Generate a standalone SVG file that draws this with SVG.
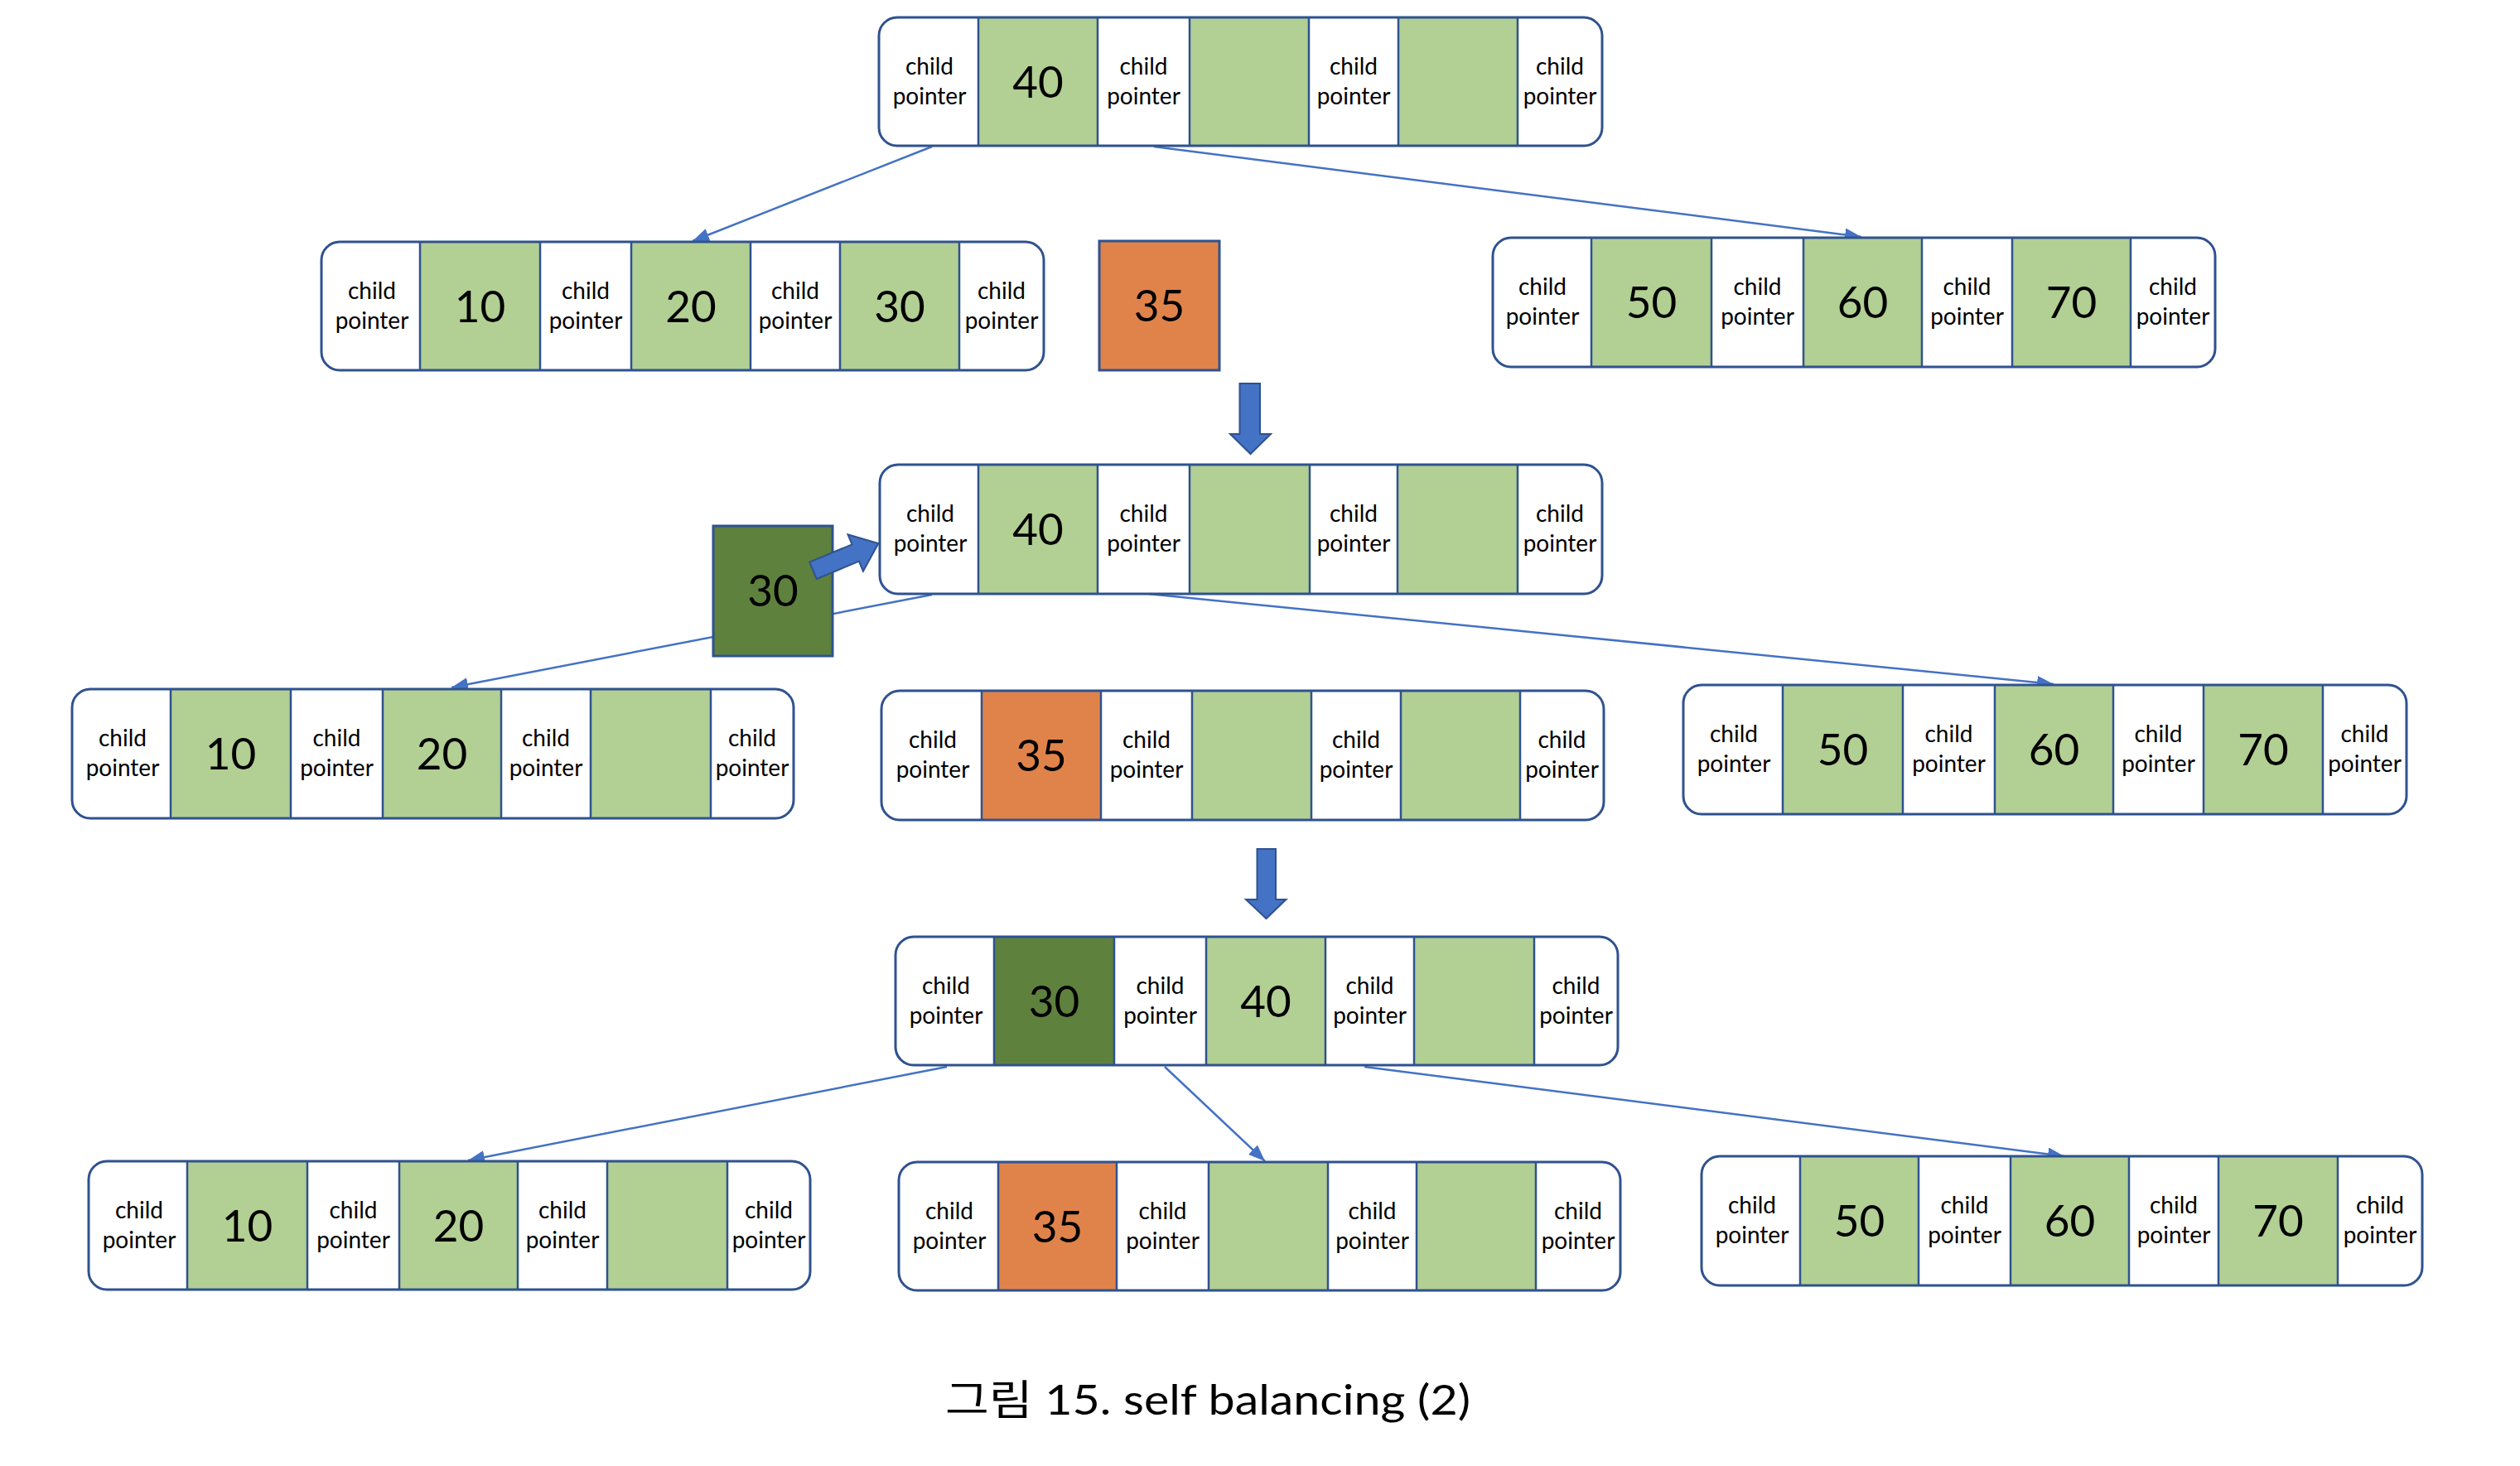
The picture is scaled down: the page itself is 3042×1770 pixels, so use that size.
<svg xmlns="http://www.w3.org/2000/svg" width="3042" height="1770" viewBox="0 0 3042 1770">
<style>
.frame{fill:#fff;stroke:none}
.outline{fill:none;stroke:#2F528F;stroke-width:3}
.k{fill:#B2CF94}
.o{fill:#E0834A}
.d{fill:#5E813E}
.dv{stroke:#2F528F;stroke-width:2.5}
.box{stroke:#2F528F;stroke-width:3}
.cp{font-family:Lato,"Noto Sans",sans-serif;font-size:28px;text-anchor:middle;fill:#000}
.num{font-family:Lato,"Noto Sans",sans-serif;font-size:53px;text-anchor:middle;fill:#000}
.edge{stroke:#4472C4;stroke-width:2.5;fill:none;marker-end:url(#ah)}
.blk{fill:#4472C4;stroke:#2F528F;stroke-width:2}
.cap{font-family:Lato,"Noto Sans","Noto Sans CJK KR",sans-serif;font-size:50px;fill:#000}
</style>
<defs>
<marker id="ah" viewBox="0 0 20 16" refX="20" refY="8" markerWidth="20" markerHeight="16" markerUnits="userSpaceOnUse" orient="auto"><path d="M0,0 L20,8 L0,16 z" fill="#4472C4"/></marker>
</defs>
<rect width="3042" height="1770" fill="#fff"/>
<g id="connectors">
<line class="edge" x1="1125" y1="177" x2="836" y2="291"/>
<line class="edge" x1="1393" y1="177" x2="2247" y2="286"/>
<line class="edge" x1="1125" y1="718" x2="545" y2="830"/>
<line class="edge" x1="1386" y1="717" x2="2479" y2="826"/>
<line class="edge" x1="1143" y1="1288" x2="565" y2="1401"/>
<line class="edge" x1="1406" y1="1288" x2="1527" y2="1402"/>
<line class="edge" x1="1647" y1="1288" x2="2492" y2="1396"/>
</g>
<g id="nodeA">
<rect class="frame" x="1061" y="21" width="873" height="155" rx="22"/>
<rect class="k" x="1181" y="21" width="144" height="155"/><rect class="k" x="1436" y="21" width="144" height="155"/><rect class="k" x="1688" y="21" width="144" height="155"/>
<path class="dv" d="M1181,21V176M1325,21V176M1436,21V176M1580,21V176M1688,21V176M1832,21V176"/>
<rect class="outline" x="1061" y="21" width="873" height="155" rx="22"/>
<text class="cp"><tspan x="1122" y="90">child</tspan><tspan x="1122" y="126">pointer</tspan></text>
<text class="cp"><tspan x="1380.5" y="90">child</tspan><tspan x="1380.5" y="126">pointer</tspan></text>
<text class="cp"><tspan x="1634" y="90">child</tspan><tspan x="1634" y="126">pointer</tspan></text>
<text class="cp"><tspan x="1883" y="90">child</tspan><tspan x="1883" y="126">pointer</tspan></text>
<text class="num" x="1253" y="118">40</text>
</g>
<g id="nodeB">
<rect class="frame" x="388" y="292" width="872" height="155" rx="22"/>
<rect class="k" x="507" y="292" width="145" height="155"/><rect class="k" x="762" y="292" width="144" height="155"/><rect class="k" x="1014" y="292" width="144" height="155"/>
<path class="dv" d="M507,292V447M652,292V447M762,292V447M906,292V447M1014,292V447M1158,292V447"/>
<rect class="outline" x="388" y="292" width="872" height="155" rx="22"/>
<text class="cp"><tspan x="449" y="361">child</tspan><tspan x="449" y="397">pointer</tspan></text>
<text class="cp"><tspan x="707" y="361">child</tspan><tspan x="707" y="397">pointer</tspan></text>
<text class="cp"><tspan x="960" y="361">child</tspan><tspan x="960" y="397">pointer</tspan></text>
<text class="cp"><tspan x="1209" y="361">child</tspan><tspan x="1209" y="397">pointer</tspan></text>
<text class="num" x="579.5" y="389">10</text><text class="num" x="834" y="389">20</text><text class="num" x="1086" y="389">30</text>
</g>
<g id="new35">
<rect class="o box" x="1327" y="291" width="145" height="156"/>
<text class="num" x="1399.5" y="388">35</text>
</g>
<g id="nodeC">
<rect class="frame" x="1802" y="287" width="872" height="156" rx="22"/>
<rect class="k" x="1921" y="287" width="145" height="156"/><rect class="k" x="2177" y="287" width="143" height="156"/><rect class="k" x="2429" y="287" width="143" height="156"/>
<path class="dv" d="M1921,287V443M2066,287V443M2177,287V443M2320,287V443M2429,287V443M2572,287V443"/>
<rect class="outline" x="1802" y="287" width="872" height="156" rx="22"/>
<text class="cp"><tspan x="1862" y="356">child</tspan><tspan x="1862" y="392">pointer</tspan></text>
<text class="cp"><tspan x="2121.5" y="356">child</tspan><tspan x="2121.5" y="392">pointer</tspan></text>
<text class="cp"><tspan x="2374.5" y="356">child</tspan><tspan x="2374.5" y="392">pointer</tspan></text>
<text class="cp"><tspan x="2623" y="356">child</tspan><tspan x="2623" y="392">pointer</tspan></text>
<text class="num" x="1993.5" y="384">50</text><text class="num" x="2248.5" y="384">60</text><text class="num" x="2500.5" y="384">70</text>
</g>
<g id="nodeD">
<rect class="frame" x="1062" y="561" width="872" height="156" rx="22"/>
<rect class="k" x="1181" y="561" width="144" height="156"/><rect class="k" x="1436" y="561" width="145" height="156"/><rect class="k" x="1687" y="561" width="145" height="156"/>
<path class="dv" d="M1181,561V717M1325,561V717M1436,561V717M1581,561V717M1687,561V717M1832,561V717"/>
<rect class="outline" x="1062" y="561" width="872" height="156" rx="22"/>
<text class="cp"><tspan x="1123" y="630">child</tspan><tspan x="1123" y="666">pointer</tspan></text>
<text class="cp"><tspan x="1380.5" y="630">child</tspan><tspan x="1380.5" y="666">pointer</tspan></text>
<text class="cp"><tspan x="1634" y="630">child</tspan><tspan x="1634" y="666">pointer</tspan></text>
<text class="cp"><tspan x="1883" y="630">child</tspan><tspan x="1883" y="666">pointer</tspan></text>
<text class="num" x="1253" y="658">40</text>
</g>
<g id="up30">
<rect class="d box" x="861" y="635" width="144" height="157"/>
<text class="num" x="933" y="732">30</text>
</g>
<g id="nodeE">
<rect class="frame" x="87" y="832" width="871" height="156" rx="22"/>
<rect class="k" x="206" y="832" width="145" height="156"/><rect class="k" x="462" y="832" width="143" height="156"/><rect class="k" x="713" y="832" width="145" height="156"/>
<path class="dv" d="M206,832V988M351,832V988M462,832V988M605,832V988M713,832V988M858,832V988"/>
<rect class="outline" x="87" y="832" width="871" height="156" rx="22"/>
<text class="cp"><tspan x="148" y="901">child</tspan><tspan x="148" y="937">pointer</tspan></text>
<text class="cp"><tspan x="406.5" y="901">child</tspan><tspan x="406.5" y="937">pointer</tspan></text>
<text class="cp"><tspan x="659" y="901">child</tspan><tspan x="659" y="937">pointer</tspan></text>
<text class="cp"><tspan x="908" y="901">child</tspan><tspan x="908" y="937">pointer</tspan></text>
<text class="num" x="278.5" y="929">10</text><text class="num" x="533.5" y="929">20</text>
</g>
<g id="nodeF">
<rect class="frame" x="1064" y="834" width="872" height="156" rx="22"/>
<rect class="o" x="1185" y="834" width="144" height="156"/><rect class="k" x="1439" y="834" width="144" height="156"/><rect class="k" x="1691" y="834" width="144" height="156"/>
<path class="dv" d="M1185,834V990M1329,834V990M1439,834V990M1583,834V990M1691,834V990M1835,834V990"/>
<rect class="outline" x="1064" y="834" width="872" height="156" rx="22"/>
<text class="cp"><tspan x="1126" y="903">child</tspan><tspan x="1126" y="939">pointer</tspan></text>
<text class="cp"><tspan x="1384" y="903">child</tspan><tspan x="1384" y="939">pointer</tspan></text>
<text class="cp"><tspan x="1637" y="903">child</tspan><tspan x="1637" y="939">pointer</tspan></text>
<text class="cp"><tspan x="1885.5" y="903">child</tspan><tspan x="1885.5" y="939">pointer</tspan></text>
<text class="num" x="1257" y="931">35</text>
</g>
<g id="nodeG">
<rect class="frame" x="2032" y="827" width="873" height="156" rx="22"/>
<rect class="k" x="2152" y="827" width="145" height="156"/><rect class="k" x="2408" y="827" width="143" height="156"/><rect class="k" x="2660" y="827" width="144" height="156"/>
<path class="dv" d="M2152,827V983M2297,827V983M2408,827V983M2551,827V983M2660,827V983M2804,827V983"/>
<rect class="outline" x="2032" y="827" width="873" height="156" rx="22"/>
<text class="cp"><tspan x="2093" y="896">child</tspan><tspan x="2093" y="932">pointer</tspan></text>
<text class="cp"><tspan x="2352.5" y="896">child</tspan><tspan x="2352.5" y="932">pointer</tspan></text>
<text class="cp"><tspan x="2605.5" y="896">child</tspan><tspan x="2605.5" y="932">pointer</tspan></text>
<text class="cp"><tspan x="2854.5" y="896">child</tspan><tspan x="2854.5" y="932">pointer</tspan></text>
<text class="num" x="2224.5" y="924">50</text><text class="num" x="2479.5" y="924">60</text><text class="num" x="2732" y="924">70</text>
</g>
<g id="nodeH">
<rect class="frame" x="1081" y="1131" width="872" height="155" rx="22"/>
<rect class="d" x="1200" y="1131" width="145" height="155"/><rect class="k" x="1456" y="1131" width="144" height="155"/><rect class="k" x="1707" y="1131" width="145" height="155"/>
<path class="dv" d="M1200,1131V1286M1345,1131V1286M1456,1131V1286M1600,1131V1286M1707,1131V1286M1852,1131V1286"/>
<rect class="outline" x="1081" y="1131" width="872" height="155" rx="22"/>
<text class="cp"><tspan x="1142" y="1200">child</tspan><tspan x="1142" y="1236">pointer</tspan></text>
<text class="cp"><tspan x="1400.5" y="1200">child</tspan><tspan x="1400.5" y="1236">pointer</tspan></text>
<text class="cp"><tspan x="1653.5" y="1200">child</tspan><tspan x="1653.5" y="1236">pointer</tspan></text>
<text class="cp"><tspan x="1902.5" y="1200">child</tspan><tspan x="1902.5" y="1236">pointer</tspan></text>
<text class="num" x="1272.5" y="1228">30</text><text class="num" x="1528" y="1228">40</text>
</g>
<g id="nodeI">
<rect class="frame" x="107" y="1402" width="871" height="155" rx="22"/>
<rect class="k" x="226" y="1402" width="145" height="155"/><rect class="k" x="482" y="1402" width="143" height="155"/><rect class="k" x="733" y="1402" width="145" height="155"/>
<path class="dv" d="M226,1402V1557M371,1402V1557M482,1402V1557M625,1402V1557M733,1402V1557M878,1402V1557"/>
<rect class="outline" x="107" y="1402" width="871" height="155" rx="22"/>
<text class="cp"><tspan x="168" y="1471">child</tspan><tspan x="168" y="1507">pointer</tspan></text>
<text class="cp"><tspan x="426.5" y="1471">child</tspan><tspan x="426.5" y="1507">pointer</tspan></text>
<text class="cp"><tspan x="679" y="1471">child</tspan><tspan x="679" y="1507">pointer</tspan></text>
<text class="cp"><tspan x="928" y="1471">child</tspan><tspan x="928" y="1507">pointer</tspan></text>
<text class="num" x="298.5" y="1499">10</text><text class="num" x="553.5" y="1499">20</text>
</g>
<g id="nodeJ">
<rect class="frame" x="1085" y="1403" width="871" height="155" rx="22"/>
<rect class="o" x="1205" y="1403" width="143" height="155"/><rect class="k" x="1459" y="1403" width="144" height="155"/><rect class="k" x="1710" y="1403" width="144" height="155"/>
<path class="dv" d="M1205,1403V1558M1348,1403V1558M1459,1403V1558M1603,1403V1558M1710,1403V1558M1854,1403V1558"/>
<rect class="outline" x="1085" y="1403" width="871" height="155" rx="22"/>
<text class="cp"><tspan x="1146" y="1472">child</tspan><tspan x="1146" y="1508">pointer</tspan></text>
<text class="cp"><tspan x="1403.5" y="1472">child</tspan><tspan x="1403.5" y="1508">pointer</tspan></text>
<text class="cp"><tspan x="1656.5" y="1472">child</tspan><tspan x="1656.5" y="1508">pointer</tspan></text>
<text class="cp"><tspan x="1905" y="1472">child</tspan><tspan x="1905" y="1508">pointer</tspan></text>
<text class="num" x="1276.5" y="1500">35</text>
</g>
<g id="nodeK">
<rect class="frame" x="2054" y="1396" width="870" height="156" rx="22"/>
<rect class="k" x="2173" y="1396" width="143" height="156"/><rect class="k" x="2427" y="1396" width="143" height="156"/><rect class="k" x="2678" y="1396" width="144" height="156"/>
<path class="dv" d="M2173,1396V1552M2316,1396V1552M2427,1396V1552M2570,1396V1552M2678,1396V1552M2822,1396V1552"/>
<rect class="outline" x="2054" y="1396" width="870" height="156" rx="22"/>
<text class="cp"><tspan x="2115" y="1465">child</tspan><tspan x="2115" y="1501">pointer</tspan></text>
<text class="cp"><tspan x="2371.5" y="1465">child</tspan><tspan x="2371.5" y="1501">pointer</tspan></text>
<text class="cp"><tspan x="2624" y="1465">child</tspan><tspan x="2624" y="1501">pointer</tspan></text>
<text class="cp"><tspan x="2873" y="1465">child</tspan><tspan x="2873" y="1501">pointer</tspan></text>
<text class="num" x="2244.5" y="1493">50</text><text class="num" x="2498.5" y="1493">60</text><text class="num" x="2750" y="1493">70</text>
</g>
<g id="transitions">
<polygon class="blk" points="1496.5,463 1521,463 1521,524 1534,524 1509.5,548 1485,524 1496.5,524"/>
<polygon class="blk" points="977.3,678.6 1028.5,657.3 1023.5,645.3 1060.4,656 1041.9,689.7 1036.9,677.7 985.7,699"/>
<polygon class="blk" points="1517.5,1025 1540,1025 1540,1086 1552.5,1086 1528.5,1109 1504,1086 1517.5,1086"/>
</g>
<text class="cap" x="1141" y="1708" textLength="634" lengthAdjust="spacingAndGlyphs">그림 15. self balancing (2)</text>
</svg>
